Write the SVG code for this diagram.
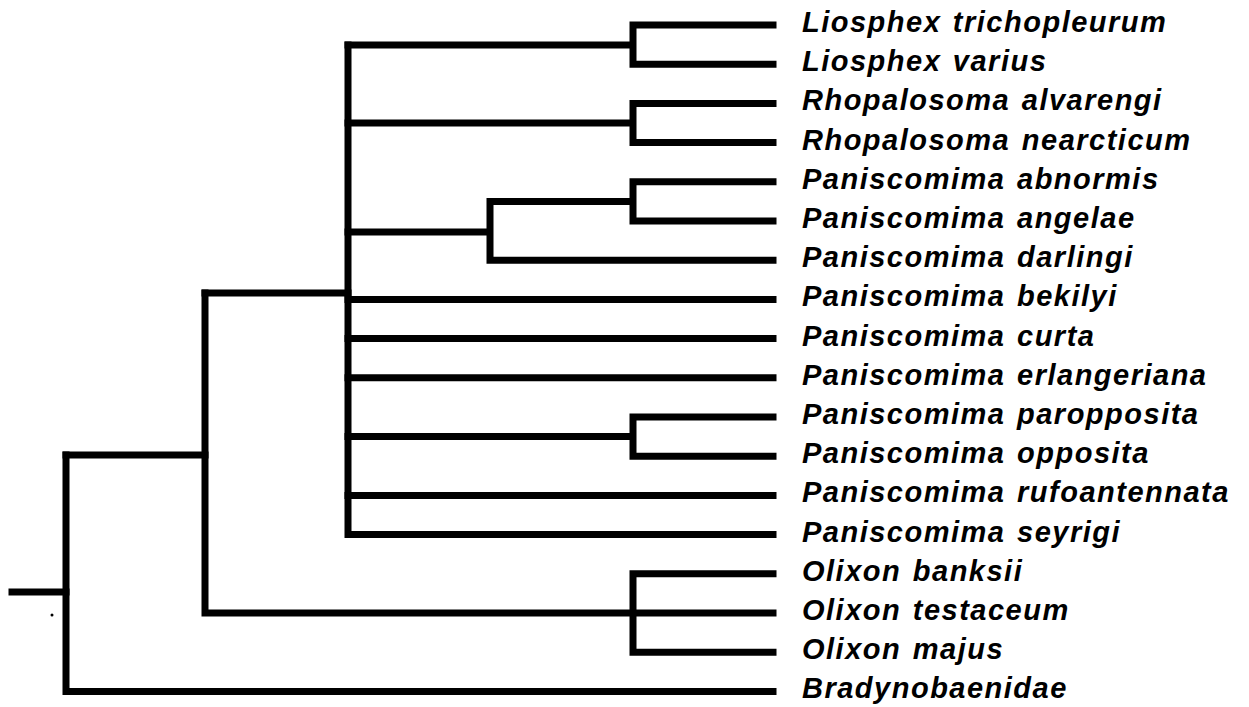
<svg xmlns="http://www.w3.org/2000/svg" width="1249" height="707" viewBox="0 0 1249 707">
<style>
.e{fill:none;stroke:#000;stroke-width:7;stroke-linejoin:miter;stroke-linecap:square}
.t{font-family:"Liberation Sans",Arial,sans-serif;font-style:italic;font-weight:bold;font-size:29px;letter-spacing:1.5px;word-spacing:2px;fill:#000}
</style>
<rect width="1249" height="707" fill="#fff"/>
<g id="connectors">
<path class="e" d="M12 592 L66 592"/>
<path class="e" d="M66 455 L66 691.4 L773 691.4"/>
<path class="e" d="M66 455 L205 455"/>
<path class="e" d="M205 293 L205 613 L630 613"/>
<path class="e" d="M205 293 L348 293"/>
<path class="e" d="M633 573.8 L633 652.2 M633 573.8 L773 573.8 M633 613 L773 613 M633 652.2 L773 652.2"/>
<path class="e" d="M348 45 L348 534.6 L773 534.6"/>
<path class="e" d="M348 45 L633 45 M633 25 L633 64.2 M633 25 L773 25 M633 64.2 L773 64.2"/>
<path class="e" d="M348 123 L633 123 M633 103.4 L633 142.6 M633 103.4 L773 103.4 M633 142.6 L773 142.6"/>
<path class="e" d="M348 232 L490 232 M490 201.4 L490 260.2 L773 260.2 M490 201.4 L633 201.4 M633 181.8 L633 221 M633 181.8 L773 181.8 M633 221 L773 221"/>
<path class="e" d="M348 299.4 L773 299.4 M348 338.6 L773 338.6 M348 377.8 L773 377.8 M348 495.4 L773 495.4"/>
<path class="e" d="M348 436.6 L633 436.6 M633 417 L633 456.2 M633 417 L773 417 M633 456.2 L773 456.2"/>
<circle cx="52" cy="615" r="1.5" fill="#000"/>
</g>
<g id="n1"><text class="t" x="802" y="32">Liosphex trichopleurum</text></g>
<g id="n2"><text class="t" x="802" y="71.2">Liosphex varius</text></g>
<g id="n3"><text class="t" x="802" y="110.4">Rhopalosoma alvarengi</text></g>
<g id="n4"><text class="t" x="802" y="149.6">Rhopalosoma nearcticum</text></g>
<g id="n5"><text class="t" x="802" y="188.8">Paniscomima abnormis</text></g>
<g id="n6"><text class="t" x="802" y="228">Paniscomima angelae</text></g>
<g id="n7"><text class="t" x="802" y="267.2">Paniscomima darlingi</text></g>
<g id="n8"><text class="t" x="802" y="306.4">Paniscomima bekilyi</text></g>
<g id="n9"><text class="t" x="802" y="345.6">Paniscomima curta</text></g>
<g id="n10"><text class="t" x="802" y="384.8">Paniscomima erlangeriana</text></g>
<g id="n11"><text class="t" x="802" y="424">Paniscomima paropposita</text></g>
<g id="n12"><text class="t" x="802" y="463.2">Paniscomima opposita</text></g>
<g id="n13"><text class="t" x="802" y="502.4">Paniscomima rufoantennata</text></g>
<g id="n14"><text class="t" x="802" y="541.6">Paniscomima seyrigi</text></g>
<g id="n15"><text class="t" x="802" y="580.8">Olixon banksii</text></g>
<g id="n16"><text class="t" x="802" y="620">Olixon testaceum</text></g>
<g id="n17"><text class="t" x="802" y="659.2">Olixon majus</text></g>
<g id="n18"><text class="t" x="802" y="698.4">Bradynobaenidae</text></g>
</svg>
